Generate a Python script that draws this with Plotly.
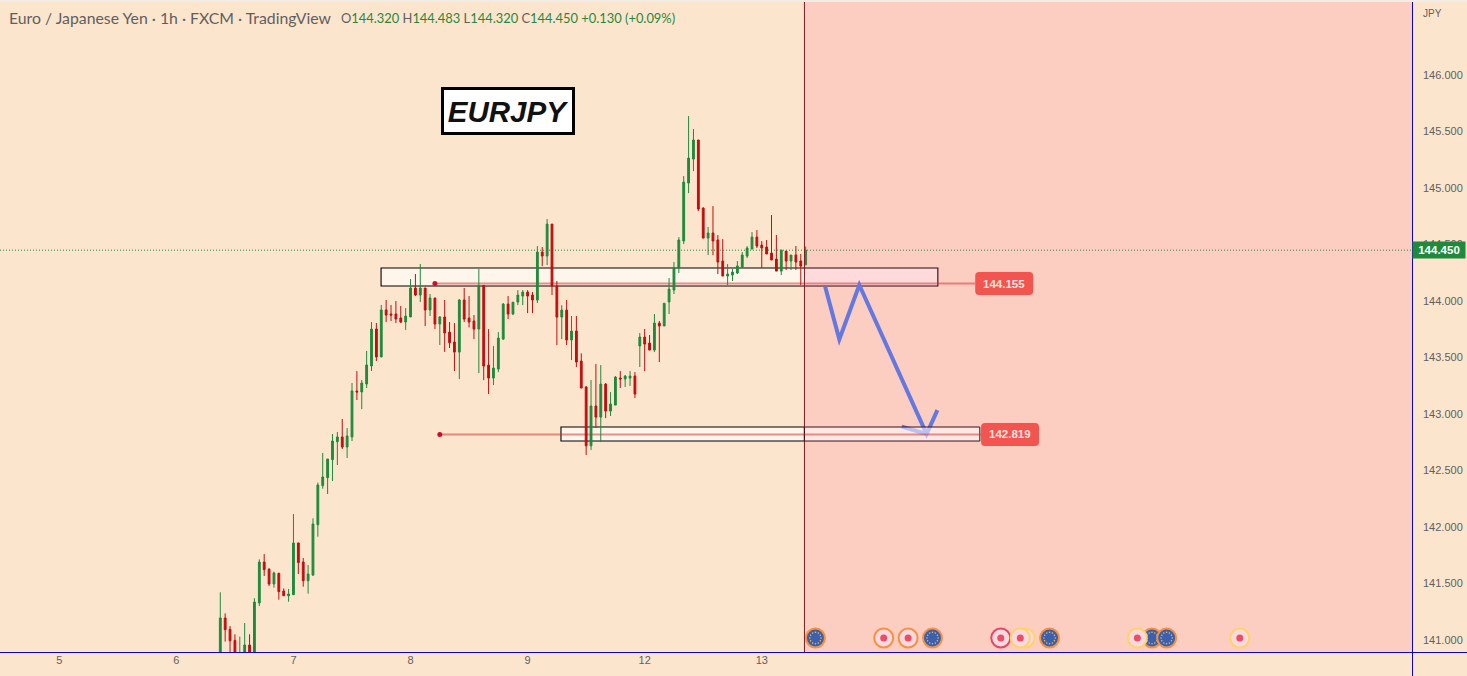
import numpy as np
import plotly.graph_objects as go

# hourly EURJPY candles
opens = [140.80, 141.195, 141.095, 140.997, 140.80, 140.87, 140.956, 140.88, 141.328, 141.69,
         141.626, 141.496, 141.59, 141.434, 141.392, 141.401, 141.859, 141.69, 141.525, 141.575,
         142.021, 142.366, 142.437, 142.596, 142.755, 142.797, 142.708, 142.797, 143.204, 143.195,
         143.266, 143.425, 143.752, 143.505, 143.921, 143.885, 143.885, 143.85, 143.814, 143.859,
         144.115, 144.053, 144.115, 143.921, 144.027, 143.797, 143.859, 143.725, 143.637, 143.548,
         144.009, 143.849, 143.823, 143.752, 144.138, 143.433, 143.318, 143.398, 143.663, 143.973,
         143.885, 143.991, 144.044, 144.079, 144.053, 144.009, 144.433, 144.398, 144.681, 144.132,
         143.858, 143.92, 143.655, 143.734, 143.469, 143.239, 142.719, 143.071, 142.973, 143.265,
         143.026, 143.079, 143.318, 143.31, 143.318, 143.336, 143.602, 143.681, 143.628, 143.566,
         143.805, 143.779, 143.991, 144.097, 144.292, 144.531, 145.044, 145.256, 145.425, 144.823,
         144.557, 144.602, 144.54, 144.354, 144.221, 144.23, 144.248, 144.301, 144.398, 144.46,
         144.566, 144.495, 144.478, 144.425, 144.371, 144.265, 144.442, 144.354, 144.407, 144.354,
         144.32]
highs = [141.422, 141.236, 141.124, 141.05, 141.03, 141.15, 141.05, 141.37, 141.714, 141.761,
         141.637, 141.605, 141.595, 141.457, 141.452, 142.115, 141.86, 141.726, 141.664, 142.077,
         142.393, 142.655, 142.602, 142.823, 142.841, 142.956, 142.876, 143.274, 143.38, 143.301,
         143.558, 143.814, 143.805, 143.965, 144.009, 143.965, 144.0, 143.956, 143.938, 144.195,
         144.239, 144.328, 144.115, 144.062, 144.027, 143.867, 144.009, 143.814, 143.805, 144.017,
         144.115, 144.044, 143.876, 144.283, 144.138, 143.752, 143.601, 143.725, 143.982, 144.044,
         143.99, 144.097, 144.097, 144.097, 144.079, 144.486, 144.478, 144.725, 144.681, 144.177,
         143.964, 144.009, 143.867, 143.867, 143.537, 143.247, 143.301, 143.442, 143.433, 143.274,
         143.194, 143.336, 143.38, 143.345, 143.38, 143.371, 143.717, 143.752, 143.699, 143.885,
         143.823, 143.98, 144.203, 144.345, 144.566, 145.106, 145.637, 145.522, 145.425, 144.829,
         144.655, 144.84, 144.584, 144.548, 144.327, 144.283, 144.354, 144.434, 144.486, 144.61,
         144.628, 144.531, 144.54, 144.761, 144.584, 144.451, 144.442, 144.407, 144.487, 144.416,
         144.483]
lows = [140.80, 140.986, 140.85, 140.80, 140.80, 140.85, 140.80, 140.80, 141.301, 141.567,
        141.478, 141.463, 141.357, 141.39, 141.339, 141.40, 141.584, 141.472, 141.41, 141.567,
        141.915, 142.339, 142.292, 142.407, 142.549, 142.69, 142.611, 142.761, 143.124, 143.044,
        143.23, 143.381, 143.469, 143.505, 143.814, 143.823, 143.805, 143.805, 143.744, 143.859,
        144.044, 143.991, 143.779, 143.867, 143.752, 143.611, 143.55, 143.584, 143.38, 143.309,
        143.814, 143.767, 143.663, 143.362, 143.30, 143.177, 143.256, 143.371, 143.655, 143.84,
        143.876, 143.964, 143.964, 143.893, 143.893, 143.982, 144.309, 144.318, 144.053, 143.61,
        143.663, 143.61, 143.478, 143.416, 143.23, 142.637, 142.681, 142.876, 142.752, 142.964,
        142.982, 143.079, 143.23, 143.239, 143.248, 143.141, 143.416, 143.38, 143.566, 143.548,
        143.46, 143.779, 143.885, 144.062, 144.248, 144.504, 144.955, 145.15, 144.796, 144.557,
        144.407, 144.407, 144.239, 144.221, 144.141, 144.177, 144.239, 144.30, 144.38, 144.46,
        144.469, 144.292, 144.416, 144.363, 144.265, 144.23, 144.274, 144.274, 144.274, 144.141,
        144.32]
closes = [141.195, 141.092, 140.994, 140.88, 140.87, 140.956, 140.87, 141.336, 141.69, 141.623,
          141.496, 141.593, 141.428, 141.392, 141.407, 141.859, 141.685, 141.525, 141.584, 142.027,
          142.372, 142.443, 142.602, 142.761, 142.797, 142.708, 142.806, 143.204, 143.195, 143.274,
          143.434, 143.752, 143.505, 143.921, 143.876, 143.876, 143.841, 143.814, 143.867, 144.115,
          144.053, 144.115, 143.921, 144.027, 143.797, 143.859, 143.717, 143.631, 143.548, 144.009,
          143.84, 143.814, 143.752, 144.138, 143.424, 143.318, 143.407, 143.672, 143.973, 143.885,
          143.99, 144.053, 144.079, 144.044, 144.009, 144.433, 144.398, 144.681, 144.132, 143.858,
          143.92, 143.655, 143.734, 143.46, 143.23, 142.719, 143.071, 142.973, 143.265, 143.026,
          143.088, 143.327, 143.31, 143.336, 143.336, 143.177, 143.681, 143.619, 143.566, 143.805,
          143.779, 143.98, 144.106, 144.292, 144.54, 145.053, 145.265, 145.425, 144.814, 144.557,
          144.602, 144.531, 144.345, 144.221, 144.239, 144.256, 144.31, 144.407, 144.469, 144.566,
          144.487, 144.469, 144.416, 144.363, 144.265, 144.451, 144.354, 144.407, 144.345, 144.31,
          144.45]
bars = list(range(len(opens)))

day_bars = [-33, -9, 15, 39, 63, 87, 111]
day_labels = ["5", "6", "7", "8", "9", "12", "13"]
price_ticks = [141.0, 141.5, 142.0, 142.5, 143.0, 143.5, 144.0, 144.5, 145.0, 145.5, 146.0]

last_close = 144.45
forecast_start = 119.75

# drawings on the chart
upper_zone = (32.96, 147.1, 144.133, 144.292)
lower_zone = (69.84, 155.7, 142.761, 142.885)
upper_level, lower_level = 144.155, 142.819
upper_level_bars = (44, 154.7)
lower_level_bars = (45, 155.9)
upper_tag_bar, lower_tag_bar = 160.7, 161.9

path_bars = [124.0, 126.9, 131.0, 144.8, 147.0]
path_prices = [144.127, 143.661, 144.142, 142.823, 143.035]
head_bars = [139.7, 144.8]
head_prices = [142.888, 142.823]

event_bars = [122, 136, 141, 146, 160, 165, 164, 170, 191, 194, 188, 209]
event_kinds = ["eu", "dot", "dot", "eu", "dot", "dot", "dot", "eu", "eu", "eu", "dot", "dot"]
event_rings = ["#f5a033", "#f5a033", "#f5a033", "#f5a033", "#e2475c", "#feee5f", "#feee5f",
               "#f5a033", "#f5a033", "#f5a033", "#feee5f", "#feee5f"]
event_price = 141.018

BG = "#fce5cd"
GREEN = "#1f8a3c"
RED = "#c40d0d"
BLUE_AXIS = "#0a06c4"
GRAY = "#5f5f5f"
ARROW = "#6478e0"
FONT = "Liberation Sans"
WIDE = 1467 / 1412  # paper x of the window's right edge

fig = go.Figure()

fig.add_trace(go.Candlestick(
    x=bars, open=opens, high=highs, low=lows, close=closes,
    increasing=dict(line=dict(color=GREEN, width=1), fillcolor=GREEN),
    decreasing=dict(line=dict(color=RED, width=1), fillcolor=RED),
    whiskerwidth=0, showlegend=False,
))


def line_path(xs, ys):
    return "M " + " L ".join(f"{x} {y}" for x, y in zip(xs, ys))


def tag_path(w, h, r=4):
    # rounded price tag, in pixels round its anchor
    a, b = w / 2, h / 2
    return (f"M {-a + r} {-b} L {a - r} {-b} Q {a} {-b} {a} {-b + r} L {a} {b - r} Q {a} {b} {a - r} {b} "
            f"L {-a + r} {b} Q {-a} {b} {-a} {b - r} L {-a} {-b + r} Q {-a} {-b} {-a + r} {-b} Z")


# under the candles
fig.add_shape(type="line", xref="paper", x0=0, x1=1, y0=last_close, y1=last_close, layer="below",
              line=dict(color=GREEN, width=1, dash="1px,2px"))
fig.add_shape(type="rect", x0=upper_zone[0], x1=upper_zone[1], y0=upper_zone[2], y1=upper_zone[3], layer="below",
              fillcolor="rgba(255,255,255,0.6)", line=dict(color="black", width=1.1))
fig.add_shape(type="rect", x0=lower_zone[0], x1=forecast_start, y0=lower_zone[2], y1=lower_zone[3], layer="below",
              fillcolor="rgba(255,255,255,0.6)", line=dict(color="black", width=1.1))
fig.add_shape(type="line", x0=upper_level_bars[0], x1=upper_level_bars[1], y0=upper_level, y1=upper_level,
              layer="below", line=dict(color="rgba(205,40,40,0.5)", width=2))
fig.add_shape(type="line", x0=lower_level_bars[0], x1=forecast_start, y0=lower_level, y1=lower_level,
              layer="below", line=dict(color="rgba(205,40,40,0.5)", width=2))

# tinted forecast side sits over everything before it
fig.add_shape(type="rect", yref="paper", x0=forecast_start, x1=244.3, y0=0, y1=1, layer="above",
              fillcolor="rgba(255,69,127,0.15)", line_width=0)
fig.add_shape(type="line", yref="paper", x0=forecast_start, x1=forecast_start, y0=0, y1=1, layer="above",
              line=dict(color="#7d1a22", width=1))
fig.add_shape(type="path", path=line_path(path_bars, path_prices), layer="above",
              line=dict(color=ARROW, width=4))
fig.add_shape(type="path", path=line_path(head_bars, head_prices), layer="above",
              line=dict(color=ARROW, width=4))
fig.add_shape(type="rect", x0=forecast_start, x1=lower_zone[1], y0=lower_zone[2], y1=lower_zone[3], layer="above",
              fillcolor="rgba(255,255,255,0.55)", line=dict(color="#3a1015", width=1))
fig.add_shape(type="line", x0=forecast_start, x1=lower_level_bars[1], y0=lower_level, y1=lower_level,
              layer="above", line=dict(color="rgba(205,40,40,0.5)", width=2))

for bar, level, w, h in [(upper_tag_bar, upper_level, 58, 23), (lower_tag_bar, lower_level, 58, 23)]:
    fig.add_shape(type="path", xsizemode="pixel", ysizemode="pixel", xanchor=bar, yanchor=level,
                  path=tag_path(w, h), fillcolor="#f25550", line_width=0, layer="above")
    fig.add_annotation(x=bar, y=level, text=f"<b>{level:.3f}</b>", showarrow=False,
                       font=dict(family=FONT, size=11.5, color="#fde3dc"))

# start dots of the two levels
fig.add_trace(go.Scatter(x=[upper_level_bars[0], lower_level_bars[0]], y=[upper_level, lower_level],
                         mode="markers", marker=dict(color="#c8102e", size=5), showlegend=False))

# calendar icons along the bottom
for bar, kind, ring in zip(event_bars, event_kinds, event_rings):
    inner = "#1a66b5" if kind == "eu" else "#f8f4f2"
    fig.add_trace(go.Scatter(x=[bar], y=[event_price], mode="markers", showlegend=False,
                             marker=dict(color=inner, size=19, line=dict(color=ring, width=2))))
    if kind == "eu":
        ang = np.arange(12) * np.pi / 6
        fig.add_trace(go.Scatter(x=bar + 1.15 * np.cos(ang), y=event_price + 0.05 * np.sin(ang), mode="markers",
                                 marker=dict(color="#e8d45a", size=1.5), showlegend=False))
    else:
        fig.add_trace(go.Scatter(x=[bar], y=[event_price], mode="markers", showlegend=False,
                                 marker=dict(color="#ea5060", size=7)))

# blue frame lines run through to the window edges, thin pale strip on top
# half pixel offsets keep them crisp
fig.add_shape(type="line", xref="paper", yref="paper", x0=0, x1=WIDE, y0=-0.5 / 652, y1=-0.5 / 652, layer="above",
              line=dict(color=BLUE_AXIS, width=1))
fig.add_shape(type="line", xref="paper", yref="paper", x0=1 + 0.5 / 1412, x1=1 + 0.5 / 1412, y0=-24 / 652, y1=1,
              layer="above", line=dict(color=BLUE_AXIS, width=1))
fig.add_shape(type="rect", xref="paper", yref="paper", x0=0, x1=WIDE, y0=1 - 2 / 652, y1=1, layer="above",
              fillcolor="#f1ece6", line_width=0)

# chart title box
fig.add_annotation(x=59, y=145.68, text="<b><i>EURJPY</i></b>", showarrow=False, width=128, height=42,
                   font=dict(family=FONT, size=29.5, color="#111111"), bgcolor="white",
                   bordercolor="black", borderwidth=3, borderpad=0)

# header line
fig.add_annotation(xref="paper", yref="paper", x=0, xshift=7, y=1 - 18 / 652, xanchor="left", yanchor="middle",
                   text="Euro / Japanese Yen · 1h · FXCM · TradingView", showarrow=False,
                   font=dict(family="Lato", size=15.8, color=GRAY))
fig.add_annotation(xref="paper", yref="paper", x=0, xshift=339, y=1 - 18 / 652, xanchor="left", yanchor="middle",
                   text=(f"<span style='color:{GRAY}'>O</span>144.320 <span style='color:{GRAY}'>H</span>144.483 "
                         f"<span style='color:{GRAY}'>L</span>144.320 <span style='color:{GRAY}'>C</span>144.450 "
                         "+0.130 (+0.09%)"),
                   showarrow=False, font=dict(family="Lato", size=12.9, color=GREEN))

# right hand scale extras
fig.add_annotation(xref="paper", yref="paper", x=1, xshift=9, y=1 - 14 / 652, xanchor="left", yanchor="middle",
                   text="JPY", showarrow=False, font=dict(family=FONT, size=10, color=GRAY))
fig.add_annotation(xref="paper", x=1, y=last_close, xanchor="left", yanchor="middle", text="<b>144.450</b>",
                   showarrow=False, width=52, height=16, bgcolor=GREEN, borderpad=0,
                   font=dict(family=FONT, size=11.5, color="white"))

fig.update_layout(
    width=1467, height=676, autosize=False,
    margin=dict(l=0, r=55, t=0, b=24, pad=0),
    paper_bgcolor=BG, plot_bgcolor=BG,
    showlegend=False, boxgap=0.47,
)
fig.update_xaxes(
    range=[-45.16, 244.3], rangeslider_visible=False, showgrid=False, zeroline=False,
    tickmode="array", tickvals=day_bars, ticktext=day_labels, ticks="",
    tickfont=dict(family=FONT, size=11, color=GRAY), showline=False,
)
fig.update_yaxes(
    range=[140.894, 146.664], side="right", showgrid=False, zeroline=False,
    tickmode="array", tickvals=price_ticks, tickformat=".3f", ticks="", ticklabelstandoff=10,
    tickfont=dict(family=FONT, size=11, color=GRAY), showline=False,
)

fig.write_html("out.html", config={"displayModeBar": False},
               post_script="document.body.style.margin='0'; document.body.style.overflow='hidden';")
